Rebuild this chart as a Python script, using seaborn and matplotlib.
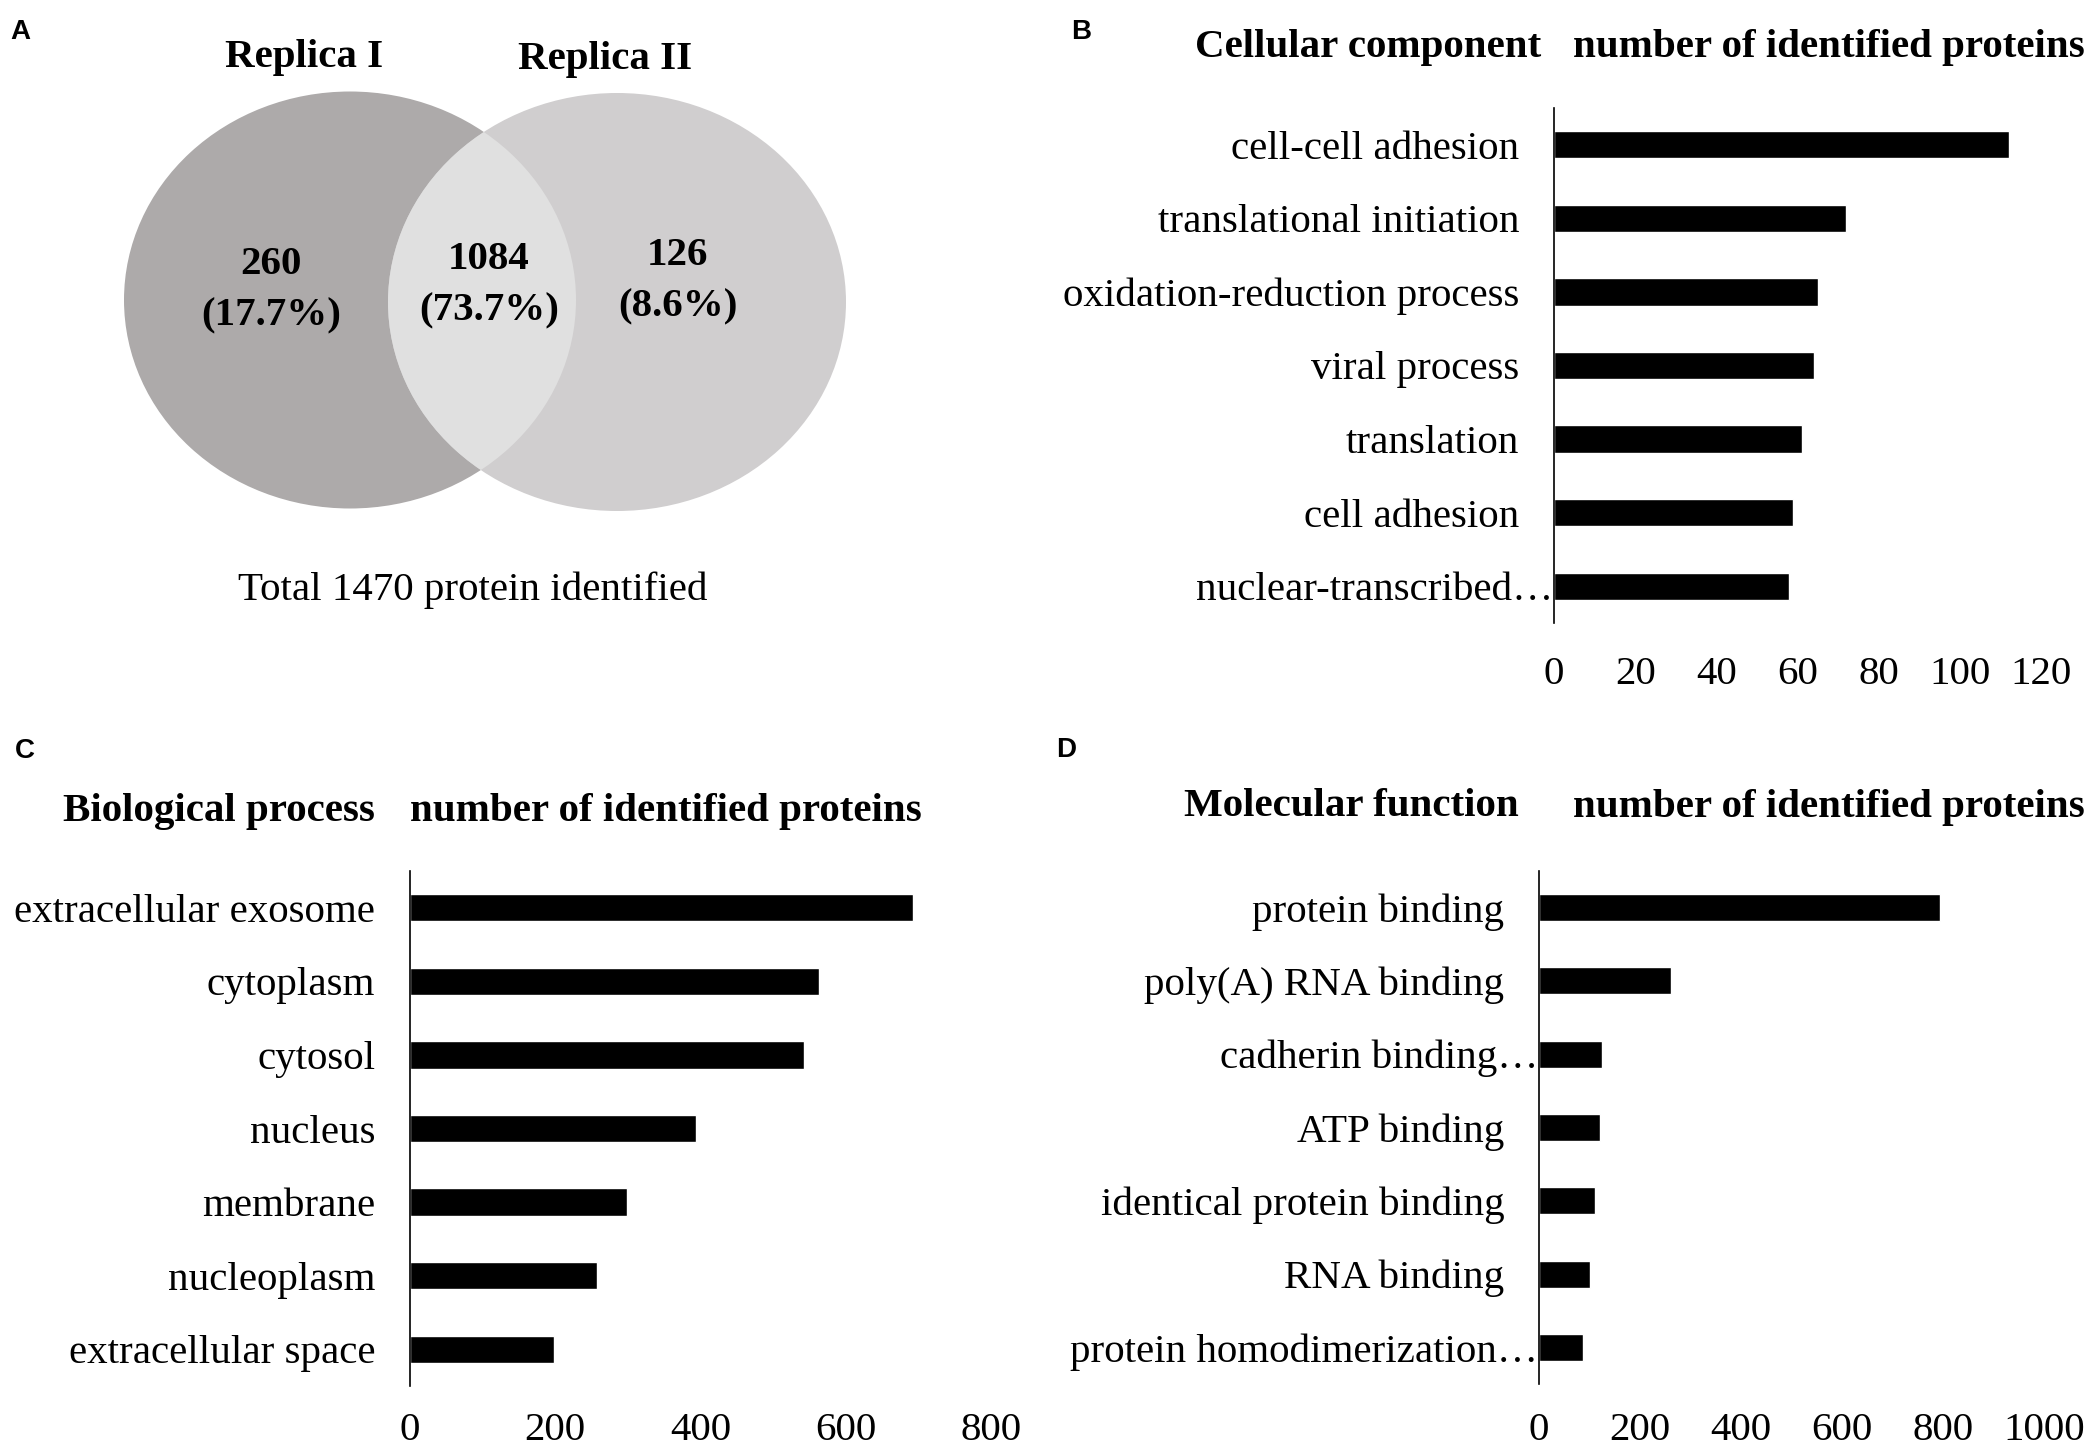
import matplotlib
matplotlib.use('Agg')
import pandas as pd
import seaborn as sns
from matplotlib import pyplot as plt
from matplotlib.patches import Ellipse

# panel A: Venn of the two replicas
venn_labels = ['Replica I', 'Replica II']
venn_counts = [260, 1084, 126]
venn_pct = [17.7, 73.7, 8.6]
total_proteins = 1470

# panel B
cc_terms = ['cell-cell adhesion', 'translational initiation', 'oxidation-reduction process',
            'viral process', 'translation', 'cell adhesion', 'nuclear-transcribed\u2026']
cc_counts = [112, 72, 65, 64, 61, 59, 58]

# panel C
bp_terms = ['extracellular exosome', 'cytoplasm', 'cytosol', 'nucleus', 'membrane',
            'nucleoplasm', 'extracellular space']
bp_counts = [693, 563, 543, 394, 299, 257, 198]

# panel D
mf_terms = ['protein binding', 'poly(A) RNA binding', 'cadherin binding\u2026', 'ATP binding',
            'identical protein binding', 'RNA binding', 'protein homodimerization\u2026']
mf_counts = [794, 261, 124, 120, 111, 100, 87]

sns.set_theme(style='white')
plt.rcParams['font.family'] = ['Liberation Serif', 'DejaVu Serif']
plt.rcParams['text.color'] = 'black'
plt.rcParams['xtick.color'] = 'black'
plt.rcParams['ytick.color'] = 'black'
plt.rcParams['axes.labelcolor'] = 'black'

W, H = 2088, 1452
FS = 29.5
fig = plt.figure(figsize=(W / 100, H / 100), dpi=100)


def fx(x):
    return x / W


def fy(y):
    return 1 - y / H


def bar_panel(box, terms, counts, xmax, step, xpad):
    x0, y0, x1, y1 = box
    ax = fig.add_axes([fx(x0), fy(y1), fx(x1 - x0), (y1 - y0) / H])
    df = pd.DataFrame({'term': terms, 'count': counts})
    sns.barplot(data=df, x='count', y='term', orient='h', color='black',
                saturation=1, width=0.37, ax=ax)
    ax.set_xlim(0, xmax)
    ax.set_xticks(range(0, xmax + 1, step))
    ax.tick_params(axis='x', length=0, pad=xpad, labelsize=FS)
    ax.tick_params(axis='y', length=0)
    ax.set_yticklabels([])
    for i, t in enumerate(terms):
        pad = 0.5 if t.endswith('\u2026') else 25
        ax.annotate(t, xy=(0, i), xycoords=('axes fraction', 'data'),
                    xytext=(-pad, 0), textcoords='offset points',
                    ha='right', va='center_baseline', fontsize=FS)
    ax.set_xlabel('')
    ax.set_ylabel('')
    for s in ['top', 'right', 'bottom']:
        ax.spines[s].set_visible(False)
    ax.spines['left'].set_color('black')
    ax.spines['left'].set_linewidth(1.2)
    return ax


# ---- A: Venn diagram ----
axv = fig.add_axes([0, 0.5, 0.5, 0.5])
axv.set_xlim(0, 1044)
axv.set_ylim(726, 0)
axv.axis('off')
left = Ellipse((350, 300), 452, 417, facecolor='#adaaaa', edgecolor='none')
right = Ellipse((617, 302), 458, 418, facecolor='#d0cecf', edgecolor='none')
lens = Ellipse((350, 300), 452, 417, facecolor='#e0e0e0', edgecolor='none')
axv.add_patch(left)
axv.add_patch(right)
axv.add_patch(lens)
lens.set_clip_path(right)
axv.text(304, 58, venn_labels[0], ha='center', va='center', fontsize=FS, fontweight='bold')
axv.text(605, 60, venn_labels[1], ha='center', va='center', fontsize=FS, fontweight='bold')
for xpos, ypos, n, p in zip([271, 489, 678], [290, 285, 281], venn_counts, venn_pct):
    axv.text(xpos, ypos, f'{n}\n({p}%)', ha='center', va='center', fontsize=FS,
             fontweight='bold', linespacing=1.5)
axv.text(473, 590, f'Total {total_proteins} protein identified', ha='center', va='center',
         fontsize=FS)

# ---- B, C, D ----
bar_panel((1554, 108, 2041, 623), cc_terms, cc_counts, 120, 20, 24)
bar_panel((410, 871, 991, 1386), bp_terms, bp_counts, 800, 200, 19)
bar_panel((1539, 871, 2044, 1384), mf_terms, mf_counts, 1000, 200, 20)

# panel titles
fig.text(fx(1541), fy(48), 'Cellular component', ha='right', va='center', fontsize=FS,
         fontweight='bold')
fig.text(fx(1573), fy(48), 'number of identified proteins', ha='left', va='center',
         fontsize=FS, fontweight='bold')
fig.text(fx(375), fy(812), 'Biological process', ha='right', va='center', fontsize=FS,
         fontweight='bold')
fig.text(fx(410), fy(812), 'number of identified proteins', ha='left', va='center',
         fontsize=FS, fontweight='bold')
fig.text(fx(1519), fy(807), 'Molecular function', ha='right', va='center', fontsize=FS,
         fontweight='bold')
fig.text(fx(1573), fy(807), 'number of identified proteins', ha='left', va='center',
         fontsize=FS, fontweight='bold')

# panel letters
for letter, x, y in [('A', 20, 32), ('B', 1081, 32), ('C', 25, 751), ('D', 1066, 750)]:
    fig.text(fx(x), fy(y), letter, ha='center', va='center', fontsize=20,
             fontweight='bold', family=['Liberation Sans', 'DejaVu Sans'])

fig.savefig('out.png', dpi=100, facecolor='white')
